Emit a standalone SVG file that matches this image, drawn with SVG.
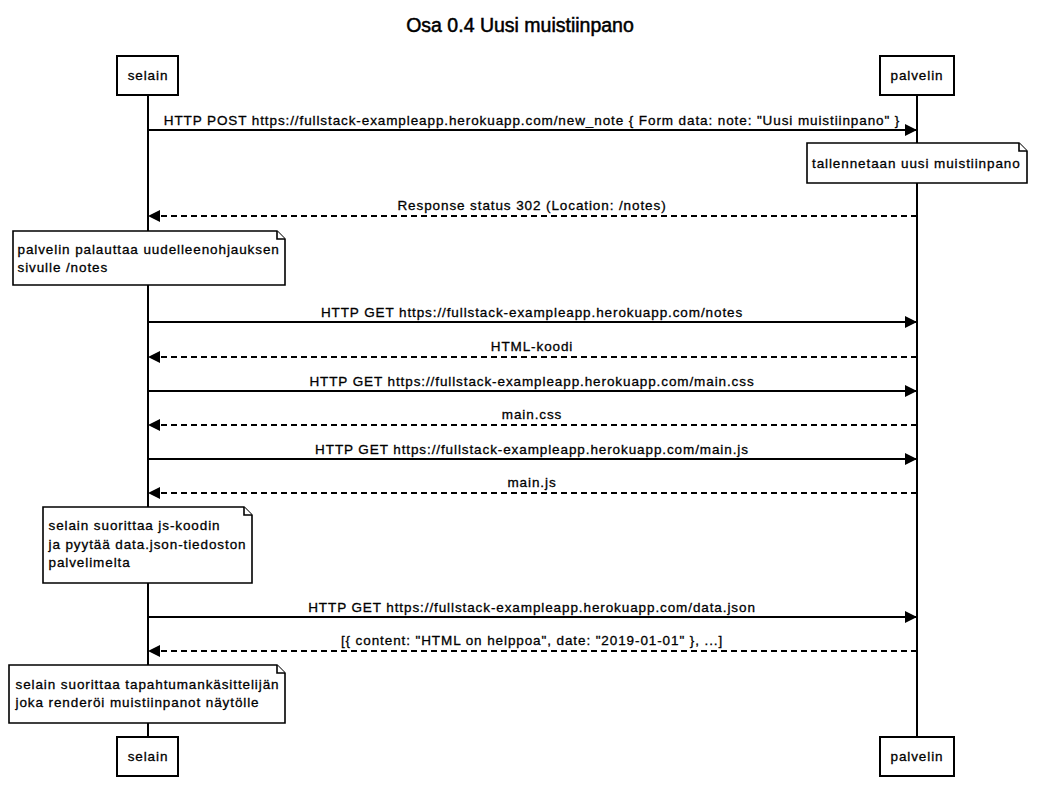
<svg xmlns="http://www.w3.org/2000/svg" width="1037" height="800" viewBox="0 0 1037 800">
<style>
text{font-family:"Liberation Sans",Arial,sans-serif;fill:#000;stroke:#000;stroke-width:0.3}
.t{font-size:19.5px;stroke-width:0.5}
.lbl{font-size:13.5px;letter-spacing:0.9px}
.mid{text-anchor:middle}
.box{fill:#fff;stroke:#000;stroke-width:2}
.note{fill:#fff;stroke:#000;stroke-width:1.6}
.life{stroke:#000;stroke-width:2}
.msg{stroke:#000;stroke-width:2;fill:none}
.dash{stroke-dasharray:6,4}
</style>
<defs>
<marker id="ah" markerUnits="userSpaceOnUse" markerWidth="13" markerHeight="12" refX="12" refY="6" orient="auto">
<path d="M0,0 L12,6 L0,12 z" fill="#000"/>
</marker>
</defs>
<rect width="1037" height="800" fill="#fff"/>
<text class="t mid" x="520" y="32">Osa 0.4 Uusi muistiinpano</text>

<g id="lifelines">
<line class="life" x1="148" y1="95" x2="148" y2="737"/>
<line class="life" x1="917" y1="95" x2="917" y2="737"/>
</g>

<g id="selain-top"><rect class="box" x="117" y="56" width="61" height="39"/><text class="lbl mid" x="148" y="80">selain</text></g>
<g id="palvelin-top"><rect class="box" x="880" y="56" width="74" height="39"/><text class="lbl mid" x="917" y="80">palvelin</text></g>
<g id="selain-bottom"><rect class="box" x="117" y="737" width="61" height="39"/><text class="lbl mid" x="148" y="761">selain</text></g>
<g id="palvelin-bottom"><rect class="box" x="880" y="737" width="74" height="39"/><text class="lbl mid" x="917" y="761">palvelin</text></g>

<g id="connectors">
<line class="msg" x1="148" y1="130" x2="917" y2="130" marker-end="url(#ah)"/>
<text class="lbl mid" x="532" y="124.5">HTTP POST https://fullstack-exampleapp.herokuapp.com/new_note { Form data: note: "Uusi muistiinpano" }</text>
<line class="msg dash" x1="917" y1="216" x2="148" y2="216" marker-end="url(#ah)"/>
<text class="lbl mid" x="532" y="210">Response status 302 (Location: /notes)</text>
<line class="msg" x1="148" y1="322" x2="917" y2="322" marker-end="url(#ah)"/>
<text class="lbl mid" x="532" y="316.5">HTTP GET https://fullstack-exampleapp.herokuapp.com/notes</text>
<line class="msg dash" x1="917" y1="357" x2="148" y2="357" marker-end="url(#ah)"/>
<text class="lbl mid" x="532" y="351">HTML-koodi</text>
<line class="msg" x1="148" y1="391" x2="917" y2="391" marker-end="url(#ah)"/>
<text class="lbl mid" x="532" y="385.5">HTTP GET https://fullstack-exampleapp.herokuapp.com/main.css</text>
<line class="msg dash" x1="917" y1="425" x2="148" y2="425" marker-end="url(#ah)"/>
<text class="lbl mid" x="532" y="419">main.css</text>
<line class="msg" x1="148" y1="459" x2="917" y2="459" marker-end="url(#ah)"/>
<text class="lbl mid" x="532" y="453.5">HTTP GET https://fullstack-exampleapp.herokuapp.com/main.js</text>
<line class="msg dash" x1="917" y1="493" x2="148" y2="493" marker-end="url(#ah)"/>
<text class="lbl mid" x="532" y="487">main.js</text>
<line class="msg" x1="148" y1="617" x2="917" y2="617" marker-end="url(#ah)"/>
<text class="lbl mid" x="532" y="611.5">HTTP GET https://fullstack-exampleapp.herokuapp.com/data.json</text>
<line class="msg dash" x1="917" y1="651" x2="148" y2="651" marker-end="url(#ah)"/>
<text class="lbl mid" x="532" y="645">[{ content: "HTML on helppoa", date: "2019-01-01" }, ...]</text>
</g>

<g id="note-tallennetaan">
<path class="note" d="M807,143 H1019 L1027,151 V183 H807 Z"/>
<path class="note" d="M1019,143 V151 H1027" fill="none"/>
<text class="lbl" x="812" y="168">tallennetaan uusi muistiinpano</text>
</g>
<g id="note-uudelleenohjaus">
<path class="note" d="M13,231 H277 L285,239 V285 H13 Z"/>
<path class="note" d="M277,231 V239 H285" fill="none"/>
<text class="lbl" x="17.5" y="253.5">palvelin palauttaa uudelleenohjauksen</text>
<text class="lbl" x="17.5" y="271.5">sivulle /notes</text>
</g>
<g id="note-js">
<path class="note" d="M43,507 H244 L252,515 V583 H43 Z"/>
<path class="note" d="M244,507 V515 H252" fill="none"/>
<text class="lbl" x="48.5" y="530">selain suorittaa js-koodin</text>
<text class="lbl" x="48.5" y="548.5">ja pyytää data.json-tiedoston</text>
<text class="lbl" x="48.5" y="567">palvelimelta</text>
</g>
<g id="note-render">
<path class="note" d="M9,665 H277 L285,673 V723 H9 Z"/>
<path class="note" d="M277,665 V673 H285" fill="none"/>
<text class="lbl" x="15.5" y="689">selain suorittaa tapahtumankäsittelijän</text>
<text class="lbl" x="15.5" y="707">joka renderöi muistiinpanot näytölle</text>
</g>
</svg>
